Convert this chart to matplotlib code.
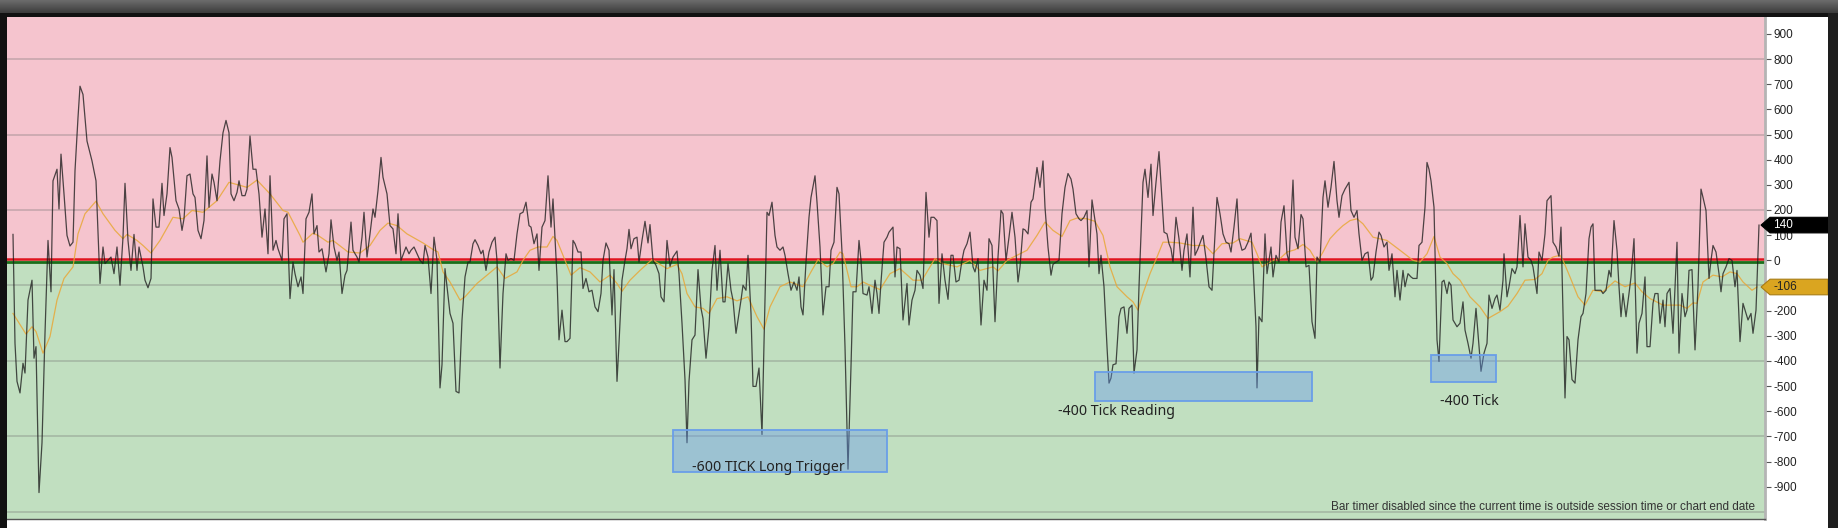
import matplotlib
matplotlib.use("Agg")
import matplotlib.pyplot as plt
import matplotlib.transforms as mtransforms
from matplotlib.colors import LinearSegmentedColormap
from matplotlib.patches import Rectangle, Polygon
import numpy as np

# TICK indicator (bar number along the session, value)
tick_bar = [
    6, 8, 10, 13, 16, 18, 21, 25, 27, 29,
    32, 35, 38, 41, 44, 46, 50, 52, 54, 57,
    60, 63, 66, 68, 71, 73, 76, 80, 85, 89,
    93, 96, 98, 101, 104, 107, 110, 113, 116, 118,
    121, 124, 127, 130, 132, 136, 138, 141, 144, 146,
    149, 152, 155, 157, 160, 163, 165, 169, 172, 175,
    177, 180, 183, 186, 188, 191, 194, 197, 200, 202,
    205, 207, 210, 213, 216, 219, 222, 224, 227, 230,
    232, 235, 238, 240, 243, 246, 249, 252, 255, 258,
    261, 263, 266, 269, 271, 275, 277, 280, 283, 286,
    288, 291,
    294, 296, 299, 302, 305, 307, 310, 312, 315, 319,
    322, 324, 327, 330, 332, 335, 338, 340, 344, 346,
    350, 352, 355, 357, 360, 363, 366, 368, 371, 374,
    376, 380, 383, 386, 389, 391, 394, 399, 402, 404,
    407, 410, 413, 416, 418, 421, 424, 427, 430, 433,
    435, 438, 440, 443, 446, 449, 452, 455, 458, 461,
    463, 466, 468, 471, 474, 476, 479, 482, 485, 488,
    490, 493, 496, 499, 501, 504, 507, 510, 513, 516,
    519, 522, 524, 527, 530, 532, 535, 538, 541, 544,
    546, 550, 552, 555, 558, 560, 563, 566, 568, 571,
    574, 576, 579, 582,
    585, 588, 591, 594, 596, 599, 602, 605, 607, 610,
    612, 615, 618, 620, 622, 624, 627, 630, 632, 635,
    638, 641, 643, 646, 649, 652, 654, 657, 660, 663,
    666, 670, 672, 675, 678, 680, 682, 685, 688, 691,
    694, 696, 699, 702, 705, 708, 710, 713, 716, 718,
    721, 724, 726, 729, 732, 734, 736, 739, 741, 744,
    746, 749, 752, 755, 757, 760, 762, 765, 768, 770,
    773, 776, 778, 781, 784, 787, 790, 792, 794, 796,
    799, 802, 804, 808, 810, 813, 816, 819, 822, 824,
    827, 830, 832, 835, 838, 841, 844, 846, 849, 852,
    854, 856, 860, 862, 865, 868, 870, 872,
    874, 877, 880, 882, 886, 888, 890, 893, 896, 900,
    902, 905, 908, 910, 913, 916, 919, 922, 924, 927,
    930, 932, 935, 938, 941, 944, 946, 949, 952, 955,
    957, 960, 963, 966, 968, 971, 974, 977, 980, 982,
    985, 988, 991, 994, 996, 999, 1002, 1005, 1008, 1011,
    1013, 1016, 1018, 1021, 1024, 1026, 1030, 1033, 1036, 1038,
    1041, 1044, 1046, 1049, 1052, 1055, 1058, 1061, 1064, 1066,
    1069, 1072, 1074, 1077, 1080, 1082, 1085, 1088, 1090, 1092,
    1094, 1097, 1100, 1102, 1104, 1106, 1109, 1112, 1114, 1117,
    1120, 1122, 1125, 1127, 1130, 1132, 1136, 1138, 1141, 1144,
    1146, 1149, 1152, 1154, 1157, 1160, 1162,
    1164, 1166, 1169, 1172, 1175, 1177, 1180, 1183, 1186, 1188,
    1191, 1194, 1196, 1199, 1202, 1205, 1208, 1210, 1213, 1216,
    1219, 1222, 1224, 1227, 1230, 1232, 1235, 1238, 1241, 1244,
    1246, 1249, 1250, 1252, 1255, 1258, 1260, 1264, 1266, 1269,
    1272, 1274, 1277, 1280, 1282, 1286, 1288, 1291, 1294, 1296,
    1299, 1302, 1305, 1308, 1310, 1313, 1316, 1318, 1321, 1324,
    1327, 1330, 1332, 1335, 1338, 1342, 1344, 1347, 1350, 1352,
    1355, 1358, 1361, 1364, 1366, 1369, 1372, 1374, 1377, 1380,
    1382, 1385, 1388, 1390, 1393, 1396, 1398, 1401, 1404, 1406,
    1410, 1412, 1415, 1418, 1420, 1422, 1424, 1427, 1430, 1432,
    1435, 1437, 1440, 1442, 1444, 1446, 1450, 1453,
    1456, 1458, 1461, 1464, 1466, 1469, 1472, 1474, 1477, 1480,
    1482, 1485, 1488, 1490, 1493, 1496, 1497, 1500, 1502, 1505,
    1508, 1510, 1513, 1516, 1518, 1521, 1524, 1526, 1530, 1532,
    1535, 1538, 1540, 1544, 1546, 1549, 1552, 1554, 1558,
    1560, 1562, 1565, 1568, 1571, 1574, 1576, 1579, 1582, 1584,
    1586, 1588, 1591, 1594, 1596, 1599, 1602, 1604, 1607, 1610,
    1612, 1614, 1616, 1619, 1622, 1624, 1627, 1630, 1632, 1635,
    1638, 1640, 1643, 1646, 1648, 1651, 1653, 1656, 1658, 1660,
    1663, 1666, 1668, 1670, 1672, 1675, 1678, 1680, 1682, 1685,
    1688, 1691, 1694, 1696, 1699, 1702, 1704, 1706, 1709, 1712,
    1714, 1716, 1719, 1722, 1725, 1728, 1730, 1733, 1736, 1738,
    1741, 1744, 1746, 1749, 1752,
]
tick_val = [
    103, -330, -481, -527, -409, -448, -158, -79, -389, -343,
    -923, -725, -290, 79, -125, 316, 362, 204, 422, 264,
    99, 57, 72, 356, 567, 692, 659, 474, 395, 316,
    -92, 53, -13, 0, 13, -53, 53, -99, 92, 306,
    79, -40, 103, -40, 53, -26, -79, -109, -72, 244,
    132, 132, 306, 178, 264, 448, 409, 237, 204, 119,
    165, 336, 343, 264, 250, 119, 86, 158, 415, 211,
    343, 310, 237, 395, 507, 556, 507, 264, 237, 270,
    316, 257, 257, 283, 494, 362, 362, 264, 92, 204,
    26, 336, 40, 79, 46, 0, 165, 185, -152, -7,
    -53, -105,
    -66, -132, 165, 191, 264, 105, 138, 33, 46, -46,
    26, 161, 53, 0, 33, -132, -59, -40, 152, 40,
    13, -7, 92, 191, 13, 105, 204, 171, 277, 409,
    330, 264, 138, 125, 26, 185, 0, 53, 26, 40,
    53, 26, 0, -13, 59, 13, -132, 92, 0, -507,
    -415, -33, -105, -211, -250, -521, -527, -237, -66, -7,
    -7, 66, 82, 59, 26, 40, -40, 33, 72, 92,
    0, -428, -132, 26, 0, 7, 0, 105, 185, 191,
    231, 138, 132, 66, 105, -40, 132, 158, 336, 132,
    244, -66, -316, -198, -323, -323, -310, 79, 66, 33,
    33, -112, -72, -125,
    -119, -185, -204, -132, 0, 69, 40, -217, -37, -481,
    -330, -79, 0, 46, 123, 46, 86, 92, -7, 79,
    155, 69, 142, 0, -20, -53, -145, -165, 79, -24,
    13, 37, -53, -250, -474, -725, -481, -316, -297, -37,
    -191, -231, -389, -264, -40, 59, -119, 40, -165, -165,
    -13, -119, -158, -290, -211, -158, -99, -119, 20, -211,
    -501, -501, -428, -692, -330, 191, 178, 231, 99, 53,
    40, 53, 20, -53, -119, -86, -119, -66, -185, -217,
    -7, 171, 250, 336, 231, 53, -217, -105, -105, 40,
    72, 290, 264, 33, -343, -830, -422, -125, -125, 79,
    0, -132, -138, -105, -211, -79, -132, -211,
    -86, 72, 92, 112, 132, -66, 53, 46, -237, -92,
    -257, -158, -119, -40, -59, -112, 270, 92, 171, 171,
    158, -171, 26, -79, -155, 20, 20, -86, -79, 0,
    40, 66, 112, -26, -46, 7, -257, -79, -119, 86,
    59, -244, 13, 198, 185, 0, 92, 191, 92, -86,
    -26, 125, 121, 105, 231, 244, 369, 290, 395, 211,
    53, -59, -16, -7, 0, 185, 290, 345, 323, 283,
    185, 165, 158, 171, 198, -26, 240, 158, 105, -53,
    20, -105, -343, -488, -468, -415, -411, -224, -191, -185,
    -290, -191, -178, -448, -356, -105, 310, 362, 250, 382,
    178, 310, 432, 303, 112, 105, 66,
    46, -7, 171, 86, -40, 40, 105, -66, 211, 20,
    46, 79, 99, 7, -105, -119, 105, 250, 185, 105,
    72, 66, 33, 132, 244, 86, 40, 46, 72, 108,
    -13, -264, -507, -224, -244, 105, -53, 53, -66, 20,
    -7, 152, 217, 26, -7, 319, 92, 46, 182, 165,
    -26, -20, -244, -310, 13, -7, 250, 316, 211, 290,
    393, 237, 171, 257, 283, 310, 198, 171, 198, 105,
    0, 26, 33, -79, -66, 33, 112, 99, 53, 72,
    -40, 26, -145, -40, -158, -40, -105, -53, -66, -72,
    -72, 59, 72, 211, 389, 362, 316, 211, -316, -402,
    -86, -79, -132, -86, -99, -237, -264, -250,
    -165, -277, -330, -389, -330, -191, -343, -441, -369, -330,
    -138, -191, -152, -138, -198, -79, 26, -145, -105, -33,
    -53, -26, 178, -26, 145, 13, 0, -26, -132, 33,
    0, 105, 237, 257, 72, 53, 16, 132, -547,
    -303, -316, -474, -488, -316, -224, -211, -132, 86, 132,
    145, -119, -119, -119, -132, -119, -40, -66, 158, 40,
    -105, -224, -132, -224, -132, -66, 86, -369, -250, -211,
    -66, -343, -343, -171, -132, -132, -250, -158, -264, -132,
    -112, -290, -105, 72, -369, -132, -224, -198, -40, -37,
    -356, -105, 283, 250, 198, -72, 0, 59, 33, -53,
    -125, -53, -26, 7, 0, -105, -40, -323, -171, -198,
    -237, -211, -290, -198, 140,
]

# moving average (orange)
sma_bar = [
    6, 19, 25, 29, 36, 43, 50, 57, 66, 71, 78, 89, 96, 108, 116, 120, 130, 136,
    144, 153, 166, 176, 185, 196, 210, 222, 240, 250, 263, 276, 281, 293,
    296, 306, 311, 321, 326, 341, 353, 363, 373, 381, 390, 400, 416, 426, 431,
    436, 443, 453, 458, 470, 480, 490, 498, 510, 516, 523, 531, 540, 546, 550,
    558, 564, 573, 583,
    593, 603, 610, 615, 623, 633, 645, 653, 660, 670, 675, 680, 688, 696, 702,
    710, 720, 730, 741, 750, 757, 763, 773, 783, 796, 803, 811, 820, 826, 833,
    836, 844, 850, 856, 866, 873,
    883, 893, 906, 915, 928, 936, 950, 963, 973, 986, 991, 1000, 1010, 1020,
    1030, 1038, 1046, 1055, 1063, 1070, 1080, 1088, 1096, 1103, 1110, 1120,
    1126, 1131, 1136, 1143, 1150, 1156, 1163,
    1173, 1186, 1198, 1206, 1215, 1226, 1233, 1245, 1250, 1255, 1266, 1273,
    1280, 1288, 1296, 1303, 1310, 1316, 1323, 1330, 1336, 1343, 1350, 1356,
    1366, 1380, 1393, 1406, 1413, 1420, 1427, 1433, 1440, 1446, 1453,
    1463, 1473, 1481, 1493, 1501, 1510, 1518, 1528, 1535, 1541, 1546, 1553,
    1556, 1563, 1571, 1578, 1586, 1596, 1608, 1618, 1628, 1635, 1643, 1656,
    1663, 1673, 1680, 1686, 1690, 1696, 1706, 1715, 1723, 1730, 1736, 1745, 1750,
]
sma_val = [
    -211, -293, -264, -283, -369, -303, -158, -72, -26, 105, 185, 235, 185, 119,
    86, 103, 79, 59, 29, 79, 171, 165, 198, 191, 237, 310, 290, 319, 264, 198,
    191, 99,
    72, 108, 99, 72, 79, 33, 29, 59, 119, 148, 138, 105, 69, 43, 33, -46, -86,
    -158, -145, -92, -59, -26, -72, -46, 0, 40, 53, 53, 95, 79, 0, -59, -29, -46,
    -86, -59, -92, -123, -79, -40, 3, -16, -33, -16, -53, -132, -185, -191,
    -211, -152, -145, -161, -145, -224, -274, -185, -105, -86, -105, -53, 3,
    -26, -13, 33, 26, -105, -105, -86, -105, -116,
    -53, -33, -79, -79, 7, -13, -26, 0, -40, -26, -42, 0, 20, 40, 99, 152, 119,
    95, 158, 168, 165, 155, 99, -26, -105, -145, -165, -198, -132, -53, 13, 72, 72,
    69, 59, 59, 26, 66, 69, 86, 72, 26, -26, 0, 7, 33, 42, 63, 40, -7, 33, 86,
    116, 138, 158, 165, 145, 92, 79, 40, 0, -7, 26, 95, 13, -13, -53, -79,
    -145, -185, -231, -204, -182, -132, -79, -76, -53, 0, 13, 20, 0, -66, -145,
    -178, -119, -125, -82, -105, -90, -125, -152, -178, -178, -178, -191, -169,
    -171, -86, -59, -66, -46, -53, -86, -119, -106,
]

grid_levels = [800, 500, 200, -100, -400, -700, -1000]
yticks = list(range(-900, 1000, 100))

# highlighted zones on the chart
zone_x0 = [666, 1088, 1424]
zone_x1 = [880, 1305, 1489]
zone_lo = [-840, -559, -483]
zone_hi = [-674, -444, -376]
note_text = ["-600 TICK Long Trigger", "-400 Tick Reading", "-400 Tick"]
note_bar = [761, 1110, 1462]
note_val = [-825, -599, -563]

last_tick = 140
last_sma = -106

W, H = 1838, 528
fig = plt.figure(figsize=(W / 100, H / 100), dpi=100)
fig.patch.set_facecolor("white")

ax = fig.add_axes([7 / W, 9 / H, (1765 - 7) / W, (519 - 17) / H])
ax.set_facecolor("none")
ax.set_xlim(0, 1758)
ax.set_ylim(-1028, 967)

ax.axhspan(0, 967, color="#f5c4ce", zorder=0, lw=0)
ax.axhspan(-1028, 0, color="#c1dfc0", zorder=0, lw=0)
for g in grid_levels:
    ax.axhline(g, color="#707070", alpha=0.35, lw=1.2, zorder=1)

# zero line: red on top, dark green just under it
ytr = ax.get_yaxis_transform()
up = mtransforms.offset_copy(ytr, fig=fig, y=1.0, units="dots")
dn = mtransforms.offset_copy(ytr, fig=fig, y=-1.2, units="dots")
ax.plot([0, 1], [0, 0], color="#1a6e1a", lw=2, zorder=2, transform=dn)
ax.plot([0, 1], [0, 0], color="#e0141e", lw=1.8, zorder=2, transform=up)

ax.plot(sma_bar, sma_val, color="#e8a838", lw=0.9, alpha=0.85, zorder=3)
ax.plot(tick_bar, tick_val, color="#1c1c1c", lw=0.9, alpha=0.78, zorder=4)

for x0, x1, lo, hi in zip(zone_x0, zone_x1, zone_lo, zone_hi):
    ax.add_patch(Rectangle((x0, lo), x1 - x0, hi - lo, facecolor=(0.39, 0.59, 0.94, 0.39),
                           edgecolor="#6a9ee8", lw=1.3, zorder=5))
for txt, b, v in zip(note_text, note_bar, note_val):
    ax.text(b, v, txt, ha="center", va="center", fontsize=10.2, family="Noto Sans",
            color="#222222", zorder=6)

ax.yaxis.tick_right()
ax.set_yticks(yticks)
ax.set_yticklabels([str(v) for v in yticks])
ax.set_xticks([])
ax.tick_params(axis="y", direction="out", length=4, width=0.8, color="#555555",
               labelsize=8.5, pad=2, labelcolor="#222222")
for lab in ax.get_yticklabels():
    lab.set_family("Liberation Sans")
for s in ["left", "top"]:
    ax.spines[s].set_visible(False)
ax.spines["right"].set_color("#b4b4b4")
ax.spines["right"].set_linewidth(2)
ax.spines["bottom"].set_color("#555555")
ax.spines["bottom"].set_linewidth(1)

# last-value markers on the price scale
trans = mtransforms.blended_transform_factory(fig.transFigure, ax.transData)
hh = 31
for val, face, edge, tc in [(last_tick, "#000000", "#000000", "white"),
                            (last_sma, "#daa520", "#a87c14", "#222222")]:
    pts = [(1761 / W, val), (1770 / W, val + hh), (1828 / W, val + hh),
           (1828 / W, val - hh), (1770 / W, val - hh)]
    ax.add_patch(Polygon(pts, closed=True, transform=trans, facecolor=face,
                         edgecolor=edge, lw=0.8, clip_on=False, zorder=7))
    ax.text(1773 / W, val, str(val), transform=trans, ha="left", va="center",
            fontsize=8.5, family="Liberation Sans", color=tc, zorder=8, clip_on=False)

fig.text(1755 / W, (H - 507) / H,
         "Bar timer disabled since the current time is outside session time or chart end date",
         ha="right", va="center", fontsize=8.5, family="Liberation Sans", color="#333333")

# window frame
gax = fig.add_axes([0, (H - 13) / H, 1, 13 / H])
grad = LinearSegmentedColormap.from_list("frame", ["#3c3c3c", "#6c6c6c"])
gax.imshow(np.linspace(0, 1, 30).reshape(-1, 1), cmap=grad, aspect="auto",
           origin="lower", extent=[0, 1, 0, 1])
gax.axis("off")
fig.add_artist(Rectangle((0, (H - 17) / H), 1, 4 / H, transform=fig.transFigure,
                         color="#111111", lw=0))
fig.add_artist(Rectangle((0, 0), 7 / W, (H - 13) / H, transform=fig.transFigure,
                         color="#111111", lw=0))
fig.add_artist(Rectangle((1828 / W, 0), 10 / W, (H - 13) / H, transform=fig.transFigure,
                         color="#1e1e1e", lw=0))

fig.savefig("out.png", dpi=100)
